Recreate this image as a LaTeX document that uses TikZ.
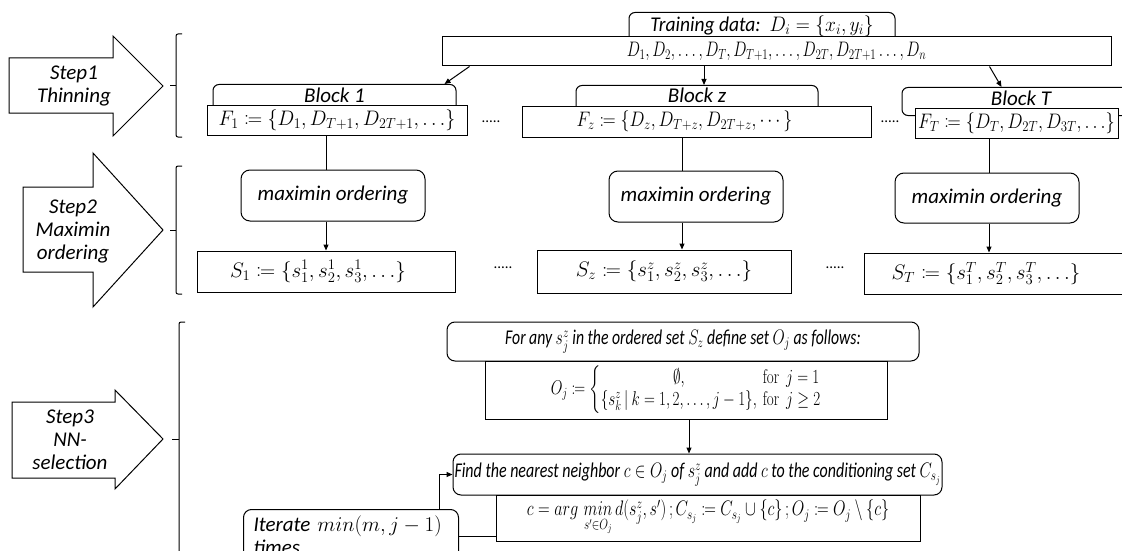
\RequirePackage{fix-cm}
\documentclass[tikz,border=0pt]{standalone}
\usepackage{mathtools}
\usepackage{amssymb}
\usepackage[no-math]{fontspec}
\setmainfont{Carlito}
\usetikzlibrary{arrows.meta,calc}
\begin{document}
\begin{tikzpicture}[x=1pt,y=-1pt,line width=1pt,
  every node/.style={font=\fontsize{21}{23}\selectfont\itshape, inner sep=0pt},
  arr/.style={-{Triangle[length=6pt,width=5pt]}},
  sq/.style={draw, fill=white},
  rbox/.style={draw, fill=white, rounded corners=9pt},
  tab/.style={draw, fill=white, rounded corners=6pt, anchor=north, text depth=10pt},
  dots/.style={font=\fontsize{15}{15}\selectfont, anchor=base},
  steptxt/.style={align=center},
  bigarrow/.style={draw, line width=1pt, line join=miter},
  brk/.style={line width=1pt, rounded corners=2pt}]
\useasboundingbox (0,0) rectangle (1122,551);
\clip (0,0) rectangle (1122,551);

% step arrows
\draw[bigarrow] (9,58) -- (113,58) -- (113,36) -- (163,86) -- (113,136) -- (113,113) -- (9,113) -- cycle;
\draw[bigarrow] (23,187) -- (93,187) -- (93,153) -- (163,230) -- (93,307) -- (93,272) -- (23,272) -- cycle;
\draw[bigarrow] (12,402) -- (115,402) -- (115,390) -- (163,439) -- (115,489) -- (115,478) -- (12,478) -- cycle;
\node[steptxt] (st1) at (74,86) {Step1\\Thinning};
\node[steptxt] (st2) at (73,231) {Step2\\Maximin\\ordering};
\node[steptxt] (st3) at (70,440) {Step3\\NN-\\selection};

% brackets
\draw[brk] (182,34) -- (176,34) -- (176,137) -- (182,137);
\draw (170,86) -- (176,86);
\draw[brk] (182,166) -- (176,166) -- (176,294) -- (182,294);
\draw (170,230) -- (176,230);
\draw[brk] (185,322) -- (179,322) -- (179,580);
\draw (172,439) -- (179,439);

% step 1
\node[tab, minimum width=266pt, text height=19pt, text depth=12pt] (train) at (762,12) {\scalebox{0.93}[1]{Training data:\ \ $D_i = \{x_i, y_i\}$}};
\node[sq, minimum width=669pt, minimum height=29pt] (D) at (776.5,51.5) {\scalebox{0.75}[1]{$D_1, D_2, \ldots, D_T, D_{T+1}, \ldots, D_{2T}, D_{2T+1} \ldots, D_n$}};
\node[tab, minimum width=243pt, text height=18pt] (blk1) at (334.5,84) {Block 1};
\node[tab, minimum width=242pt, text height=17pt] (blkz) at (697,85) {Block z};
\node[tab, minimum width=238pt, text height=18pt] (blkT) at (1021,87) {Block T};
\node[sq, minimum width=260pt, minimum height=30pt] (F1) at (337,120) {\scalebox{0.95}[1]{$F_1 \coloneqq \{D_1, D_{T+1}, D_{2T+1}, \ldots\}$}};
\node[sq, minimum width=349pt, minimum height=31pt] (Fz) at (696.5,121.5) {\hspace*{-24pt}\scalebox{0.85}[1]{$F_z \coloneqq \{D_z, D_{T+z}, D_{2T+z}, \cdots\}$}};
\node[sq, minimum width=203pt, minimum height=30pt] (FT) at (1016.5,123) {\scalebox{0.87}[1]{$F_T \coloneqq \{D_T, D_{2T}, D_{3T}, \ldots\}$}};
\node[dots] (d1) at (491,122) {.....};
\node[dots] (d2) at (890,122) {.....};

\draw[arr] ([xshift=28pt]D.south west) -- ([xshift=232pt]blk1.north west);
\draw[arr] ([xshift=7pt]blkz.north |- D.south) -- ([xshift=7pt]blkz.north);
\draw[arr] ([xshift=-122pt]D.south east) -- ([xshift=100pt]blkT.north west);

% step 2
\node[rbox, minimum width=184pt, minimum height=51pt] (M1) at (333,195.5) {maximin ordering};
\node[rbox, minimum width=174pt, minimum height=51pt] (Mz) at (696,196.5) {maximin ordering};
\node[rbox, minimum width=184pt, minimum height=50pt] (MT) at (987,198) {maximin ordering};
\node[sq, minimum width=258pt, minimum height=41pt] (S1) at (326,271.5) {\hspace*{-16pt}$S_1 \coloneqq \{s_1^1, s_2^1, s_3^1, \ldots\}$};
\node[sq, minimum width=254pt, minimum height=43pt] (Sz) at (664,271.5) {$S_z \coloneqq \{s_1^z, s_2^z, s_3^z, \ldots\}$};
\node[sq, minimum width=276pt, minimum height=41pt] (ST) at (1002,273.5) {\hspace*{-32pt}$S_T \coloneqq \{s_1^T, s_2^T, s_3^T, \ldots\}$};
\node[dots] (d3) at (503,268) {.....};
\node[dots] (d4) at (835,268) {.....};

\draw ([xshift=-7pt]M1.north |- F1.south) -- ([xshift=-7pt]M1.north);
\draw[arr] ([xshift=-7pt]M1.south) -- ([xshift=-7pt]M1.south |- S1.north);
\draw ([xshift=-14pt]Mz.north |- Fz.south) -- ([xshift=-14pt]Mz.north);
\draw[arr] ([xshift=-14pt]Mz.south) -- ([xshift=-14pt]Mz.south |- Sz.north);
\draw ([xshift=2pt]MT.north |- FT.south) -- ([xshift=2pt]MT.north);
\draw[arr] ([xshift=2pt]MT.south) -- ([xshift=2pt]MT.south |- ST.north);

% step 3
\node[rbox, rounded corners=8pt, minimum width=472pt, minimum height=39pt] (forany) at (683,341.5) {\scalebox{0.75}[1]{For any $s_j^z$ in the ordered set $S_z$ define set $O_j$ as follows:}};
\node[sq, minimum width=402pt, minimum height=58pt] (Oj) at (686,390) {\scalebox{0.72}[0.95]{$O_j \coloneqq \left\{\begin{array}{@{}c@{\ \,}l@{}} \emptyset, & \mathrm{for}\ \ j=1\\ \{s_k^z\,|\ k=1,2,\ldots,j-1\}, & \mathrm{for}\ \ j\geq 2\end{array}\right.$}};
\node[rbox, rounded corners=8pt, minimum width=489pt, minimum height=41pt] (find) at (697.5,474.5) {\scalebox{0.76}[1]{Find the nearest neighbor $c\in O_j$ of $s_j^z$ and add $c$ to the conditioning set $C_{s_j}$}};
\node[sq, minimum width=424pt, minimum height=46pt] (cbox) at (708,518) {\scalebox{0.77}[1]{$c = arg\,\mathop{min}\limits_{s'\in O_j} d(s_j^z, s')\,; C_{s_j} \coloneqq C_{s_j}\cup\{c\}\,; O_j \coloneqq O_j \setminus \{c\}$}};
\node[rbox, rounded corners=8pt, anchor=north west, align=left, inner xsep=10pt, inner ysep=6pt, text width=195pt, text depth=40pt] (iter) at (243,509) {Iterate $min(m, j-1)$\\times};

\draw[arr] ([xshift=3pt]Oj.south) -- ([xshift=3pt]Oj.south |- find.north);
\draw[arr] ([xshift=-20pt]iter.north east) |- (find.west);
\draw ([yshift=-18pt]cbox.west) -- ([yshift=-18pt]cbox.west -| iter.east);
\end{tikzpicture}
\end{document}
